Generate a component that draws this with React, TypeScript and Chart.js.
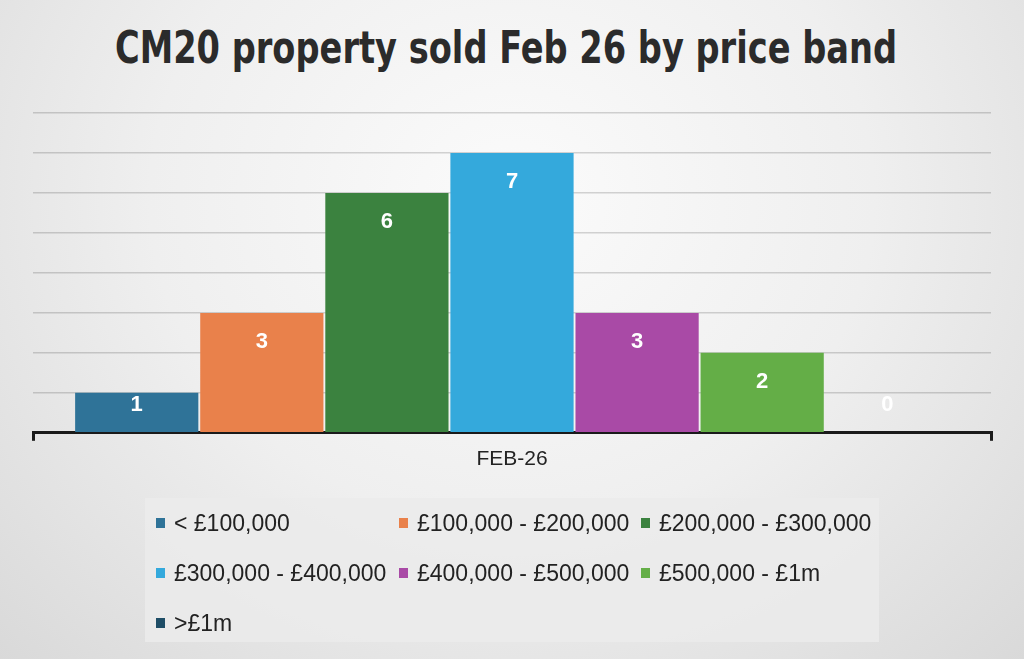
import { useEffect, useRef } from 'react'
import { Chart, registerables } from 'chart.js'

Chart.register(...registerables)

const chartTitle = 'CM20 property sold Feb 26 by price band'
const categories = ['FEB-26']
const bands = [
  '< £100,000',
  '£100,000 - £200,000',
  '£200,000 - £300,000',
  '£300,000 - £400,000',
  '£400,000 - £500,000',
  '£500,000 - £1m',
  '>£1m',
]
const sold = [1, 3, 6, 7, 3, 2, 0]
const bandColors = ['#2f7398', '#e9814b', '#3b823f', '#34a9dc', '#a94aa6', '#64ae47', '#1e4d66']
const yTicks = [0, 1, 2, 3, 4, 5, 6, 7, 8]

// white value labels just inside the top of each bar
const valueLabels = {
  id: 'valueLabels',
  afterDatasetsDraw(chart: Chart) {
    const ctx = chart.ctx
    const base = chart.scales.y.getPixelForValue(0)
    ctx.save()
    ctx.fillStyle = '#ffffff'
    ctx.font = 'bold 22px "Liberation Sans", Arial, sans-serif'
    ctx.textAlign = 'center'
    ctx.textBaseline = 'middle'
    chart.data.datasets.forEach((ds, i) => {
      const bar: any = chart.getDatasetMeta(i).data[0]
      if (!bar) return
      const y = Math.min(bar.y + 29, base - 28)
      ctx.fillText(String(ds.data[0]), bar.x, y)
    })
    ctx.restore()
  },
}

export default function App() {
  const canvasRef = useRef<HTMLCanvasElement>(null)
  const chartRef = useRef<Chart<'bar'> | null>(null)

  useEffect(() => {
    document.body.style.margin = '0'
    if (!canvasRef.current) return
    if (chartRef.current) chartRef.current.destroy()
    const ctx = canvasRef.current.getContext('2d')
    if (!ctx) return

    chartRef.current = new Chart(ctx, {
      type: 'bar',
      data: {
        labels: categories,
        datasets: bands.map((b, i) => ({
          label: b,
          data: [sold[i]],
          backgroundColor: bandColors[i],
          borderWidth: 0,
          barPercentage: 0.985,
          categoryPercentage: 0.914,
        })),
      },
      options: {
        responsive: false,
        animation: false,
        layout: { padding: { left: 33, right: 33, top: 113, bottom: 181 } },
        plugins: {
          legend: { display: false },
          tooltip: { enabled: false },
        },
        scales: {
          x: {
            grid: { offset: true, drawOnChartArea: false, drawTicks: true, tickLength: 8, color: '#1a1a1a', lineWidth: 3 },
            border: { display: true, color: '#1a1a1a', width: 3 },
            ticks: { color: '#222', padding: 6, font: { family: '"Liberation Sans", Arial, sans-serif', size: 21 } },
          },
          y: {
            min: 0,
            max: yTicks[yTicks.length - 1],
            z: 1,
            afterBuildTicks: (axis) => {
              axis.ticks = yTicks.map((v) => ({ value: v }))
            },
            ticks: { display: false },
            border: { display: false },
            grid: { color: (c) => (c.tick.value === 0 ? 'rgba(0,0,0,0)' : 'rgba(0,0,0,0.16)'), lineWidth: 1.5, drawTicks: false },
          },
        },
      },
      plugins: [valueLabels],
    })

    return () => {
      if (chartRef.current) {
        chartRef.current.destroy()
        chartRef.current = null
      }
    }
  }, [])

  return (
    <div
      style={{
        position: 'relative',
        width: 1024,
        height: 659,
        overflow: 'hidden',
        background: 'radial-gradient(ellipse at 50% 30%, #fbfbfb 0%, #efefef 50%, #d9d9d9 100%)',
      }}
    >
      <div
        style={{
          position: 'absolute',
          left: -6,
          top: 20,
          width: 1024,
          textAlign: 'center',
          fontFamily: '"DejaVu Sans Condensed", "Liberation Sans", Arial, sans-serif',
          fontWeight: 'bold',
          fontSize: 44,
          lineHeight: '56px',
          color: '#2b2b2b',
          transform: 'scaleX(0.85)',
          whiteSpace: 'nowrap',
        }}
      >
        {chartTitle}
      </div>
      <canvas ref={canvasRef} width={1024} height={659} style={{ position: 'absolute', left: 0, top: 0 }}></canvas>
      <div
        style={{
          position: 'absolute',
          left: 145,
          top: 498,
          width: 734,
          height: 144,
          background: 'rgba(235,235,235,0.85)',
          fontFamily: '"Liberation Sans", Arial, sans-serif',
          fontSize: 23,
          color: '#222',
          display: 'grid',
          gridTemplateColumns: '254px 242px 238px',
          gridAutoRows: 50,
        }}
      >
        {bands.map((b, i) => (
          <div key={b} style={{ display: 'flex', alignItems: 'center', paddingLeft: i % 3 === 0 ? 11 : 0, whiteSpace: 'nowrap' }}>
            <span style={{ display: 'inline-block', width: 9, height: 10, background: bandColors[i], marginRight: 9 }}></span>
            {b}
          </div>
        ))}
      </div>
    </div>
  )
}
